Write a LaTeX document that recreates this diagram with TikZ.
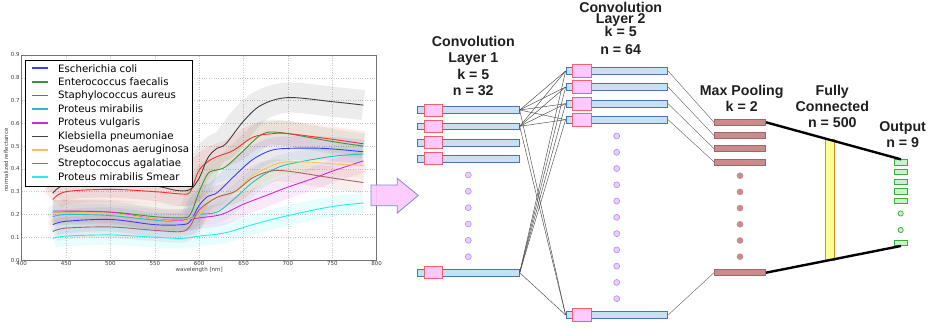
\documentclass[tikz,border=0pt]{standalone}
\usepackage{fontspec}
\setmainfont{Liberation Sans}
\newfontfamily\dejavu{DejaVu Sans}
\definecolor{barfill}{RGB}{200,225,242}
\definecolor{barline}{RGB}{75,115,185}
\definecolor{sqfill}{RGB}{255,200,255}
\definecolor{sqline}{RGB}{250,95,110}
\definecolor{dotfill}{RGB}{242,200,250}
\definecolor{dotline}{RGB}{165,150,228}
\definecolor{mpfill}{RGB}{200,140,140}
\definecolor{mpline}{RGB}{165,100,100}
\definecolor{fcfill}{RGB}{255,255,150}
\definecolor{fcline}{RGB}{215,140,40}
\definecolor{outfill}{RGB}{200,242,200}
\definecolor{outline}{RGB}{60,170,60}
\definecolor{arrfill}{RGB}{255,200,255}
\definecolor{arrline}{RGB}{120,140,205}
\definecolor{cEcoli}{RGB}{60,60,255}
\definecolor{cEnter}{RGB}{55,150,55}
\definecolor{cStaph}{RGB}{255,45,45}
\definecolor{cPmir}{RGB}{40,190,190}
\definecolor{cPvul}{RGB}{210,40,210}
\definecolor{cKleb}{RGB}{65,65,65}
\definecolor{cPseu}{RGB}{255,190,90}
\definecolor{cStrep}{RGB}{170,100,90}
\definecolor{cSmear}{RGB}{30,240,240}
\newcommand\cEcoli{(435,0.155) (450,0.17) (500,0.178) (550,0.155) (580,0.155) (590,0.17) (600,0.24) (610,0.28) (620,0.295) (640,0.37) (660,0.44) (680,0.48) (700,0.49) (740,0.49) (785,0.475)}
\newcommand\cEnter{(435,0.21) (500,0.21) (550,0.19) (580,0.185) (590,0.2) (600,0.3) (610,0.38) (620,0.395) (630,0.41) (650,0.48) (670,0.55) (690,0.56) (750,0.52) (785,0.5)}
\newcommand\cStaph{(435,0.265) (450,0.3) (500,0.31) (550,0.3) (580,0.29) (590,0.3) (600,0.395) (615,0.445) (638,0.48) (661,0.54) (684,0.555) (700,0.555) (750,0.53) (785,0.51)}
\newcommand\cPmir{(435,0.19) (450,0.2) (500,0.195) (550,0.175) (580,0.17) (600,0.2) (620,0.21) (640,0.27) (660,0.34) (680,0.39) (700,0.42) (750,0.455) (785,0.465)}
\newcommand\cPvul{(435,0.215) (500,0.21) (550,0.18) (580,0.175) (600,0.185) (625,0.2) (650,0.245) (680,0.29) (700,0.32) (730,0.36) (750,0.39) (785,0.435)}
\newcommand\cKleb{(435,0.293) (450,0.33) (500,0.34) (550,0.325) (575,0.305) (590,0.31) (600,0.36) (610,0.45) (620,0.49) (630,0.51) (650,0.61) (670,0.68) (700,0.713) (750,0.695) (785,0.68)}
\newcommand\cPseu{(435,0.21) (500,0.205) (550,0.18) (580,0.17) (600,0.2) (610,0.25) (620,0.275) (640,0.3) (660,0.37) (690,0.425) (720,0.43) (760,0.42) (785,0.415)}
\newcommand\cStrep{(435,0.125) (450,0.14) (500,0.145) (550,0.13) (580,0.125) (590,0.15) (600,0.22) (620,0.275) (640,0.3) (660,0.36) (680,0.39) (700,0.39) (750,0.36) (785,0.34)}
\newcommand\cSmear{(435,0.095) (450,0.105) (500,0.11) (550,0.1) (580,0.095) (600,0.105) (630,0.12) (660,0.155) (700,0.195) (750,0.235) (785,0.25)}
\newcommand\specband[3]{\edef\tmpspec{\noexpand\draw[line width=#2,draw=#1,draw opacity=0.1,line join=round] plot[smooth,tension=0.55] coordinates {#3};}\tmpspec}
\newcommand\specline[2]{\edef\tmpspec{\noexpand\draw[line width=0.9pt,draw=#1,line join=round] plot[smooth,tension=0.55] coordinates {#2};}\tmpspec}
\begin{document}
\begin{tikzpicture}[x=1pt,y=-1pt,
  ttl/.style={font=\bfseries\fontsize{14.2}{16}\selectfont,text=black!88,anchor=base,inner sep=0pt},
  lonebar/.style={rectangle,draw=barline,fill=barfill,line width=0.8pt,minimum width=101.6pt,minimum height=6.7pt,inner sep=0pt},
  ltwobar/.style={rectangle,draw=barline,fill=barfill,line width=0.8pt,minimum width=101.7pt,minimum height=6.7pt,inner sep=0pt},
  lonesq/.style={rectangle,draw=sqline,fill=sqfill,line width=0.8pt,minimum width=18.7pt,minimum height=12pt,inner sep=0pt},
  ltwosq/.style={rectangle,draw=sqline,fill=sqfill,line width=0.8pt,minimum width=19.4pt,minimum height=13pt,inner sep=0pt},
  ldot/.style={circle,draw=dotline,fill=dotfill,line width=0.6pt,minimum size=6pt,inner sep=0pt},
  mpbar/.style={rectangle,draw=mpline,fill=mpfill,line width=0.6pt,minimum width=51.4pt,minimum height=6pt,inner sep=0pt},
  mpdot/.style={circle,fill=mpfill,minimum size=6.6pt,inner sep=0pt},
  outbox/.style={rectangle,draw=outline,fill=outfill,line width=0.7pt,minimum width=12.4pt,minimum height=5.2pt,inner sep=0pt},
  outdot/.style={circle,draw=outline,fill=outfill,line width=0.7pt,minimum size=5.2pt,inner sep=0pt},
  conn/.style={draw=black!72,line width=0.45pt},
  pconn/.style={draw=black!55,line width=0.5pt},
  heavy/.style={draw=black,line width=2.4pt},
  gridline/.style={draw=black!22,line width=0.4pt,dotted},
  ticklab/.style={font=\dejavu\fontsize{5.5}{6}\selectfont,text=black!75,inner sep=0pt},
  legtext/.style={font=\dejavu\fontsize{10.2}{12}\selectfont,text=black,anchor=west,inner sep=0pt}]
\useasboundingbox (0,0) rectangle (930,329);
% ---------------- chart ----------------
\begin{scope}[shift={(-333.3,260)},x=0.8875pt,y=227.8pt]
  \foreach \g in {450,500,...,750} \draw[gridline] (\g,0) -- (\g,0.9);
  \foreach \g in {1,...,8} \draw[gridline] (400,{\g/10}) -- (800,{\g/10});
  \specband{cKleb}{30pt}{\cKleb}
  \specband{cStaph}{25pt}{\cStaph}
  \specband{cEnter}{25pt}{\cEnter}
  \specband{cEcoli}{24pt}{\cEcoli}
  \specband{cPmir}{22pt}{\cPmir}
  \specband{cPvul}{22pt}{\cPvul}
  \specband{cPseu}{24pt}{\cPseu}
  \specband{cStrep}{22pt}{\cStrep}
  \specband{cSmear}{20pt}{\cSmear}
  \specline{cEcoli}{\cEcoli}
  \specline{cEnter}{\cEnter}
  \specline{cStaph}{\cStaph}
  \specline{cPmir}{\cPmir}
  \specline{cPvul}{\cPvul}
  \specline{cKleb}{\cKleb}
  \specline{cPseu}{\cPseu}
  \specline{cStrep}{\cStrep}
  \specline{cSmear}{\cSmear}
  \draw[draw=black!55,line width=0.6pt] (400,0) rectangle (800,0.9);
  \foreach \g in {400,450,...,800} \node[ticklab,anchor=north] (xt\g) at (\g,-0.004) {\g};
  \foreach \g in {0,...,9} \node[ticklab,anchor=east] (yt\g) at (398,{\g/10}) {0.\g};
  \node[ticklab] (xlab) at (600,-0.044) {wavelength [nm]};
  \node[ticklab,rotate=90] (ylab) at (382.3,0.439) {normalized reflectance};
\end{scope}
% legend
\draw[fill=white,draw=black,line width=0.8pt] (25.7,60.7) rectangle (192.7,186);
\foreach \c/\t [count=\i from 0] in {cEcoli/Escherichia coli,cEnter/Enterococcus faecalis,cStaph/Staphylococcus aureus,cPmir/Proteus mirabilis,cPvul/Proteus vulgaris,cKleb/Klebsiella pneumoniae,cPseu/Pseudomonas aeruginosa,cStrep/Streptococcus agalatiae,cSmear/Proteus mirabilis Smear}{
  \draw[draw=\c,line width=1.6pt] (32,{68.3+13.6*\i}) -- (48,{68.3+13.6*\i});
  \node[legtext] (leg\i) at (58,{68.3+13.6*\i}) {\t};
}
% big arrow
\draw[fill=arrfill,draw=arrline,line width=0.8pt,fill opacity=0.92] (371,185) -- (397.3,185) -- (397.3,178.3) -- (418.3,195.5) -- (397.3,213) -- (397.3,205.7) -- (371,205.7) -- cycle;
% ---------------- titles ----------------
\node[ttl] (t1a) at (473.3,46.1) {Convolution};
\node[ttl] (t1b) at (473.3,62.8) {Layer 1};
\node[ttl] (t1c) at (473.3,79.4) {k = 5};
\node[ttl] (t1d) at (473.3,95.8) {n = 32};
\node[ttl] (t2a) at (620.7,12.8) {Convolution};
\node[ttl] (t2b) at (620.7,23.6) {Layer 2};
\node[ttl] (t2c) at (620.7,36.8) {k = 5};
\node[ttl] (t2d) at (620.7,54.4) {n = 64};
\node[ttl] (t3a) at (741.7,95.8) {Max Pooling};
\node[ttl] (t3b) at (741.7,111.8) {k = 2};
\node[ttl] (t4a) at (832.3,95.8) {Fully};
\node[ttl] (t4b) at (832.3,111.8) {Connected};
\node[ttl] (t4c) at (832.3,127.8) {n = 500};
\node[ttl] (t5a) at (902.7,131.8) {Output};
\node[ttl] (t5b) at (902.7,147.1) {n = 9};
% ---------------- layer 1 ----------------
\foreach \n/\y in {1/110,2/126.3,3/142.7,4/158.7,9/272.7} \node[lonebar] (a\n) at (468.5,\y) {};
% ---------------- layer 2 ----------------
\foreach \n/\y in {1/71,2/87,3/103.7,4/119.7,9/315} \node[ltwobar] (b\n) at (616.85,\y) {};
% ---------------- max pooling ----------------
\foreach \n/\y in {1/122.3,2/135.5,3/148.7,4/161.9,9/272.7} \node[mpbar] (m\n) at (740,\y) {};
% connections layer1 -> layer2
\foreach \s in {a1,a2,a9}
  \foreach \t in {b1,b2,b3,b4,b9}
    \draw[conn] (\s.east) -- (\t.west);
% connections layer2 -> pooling
\foreach \n in {1,2,3,4,9} \draw[pconn] (b\n.east) -- (m\n.west);
% squares
\foreach \n/\y in {1/110,2/126.3,3/142.7,4/158.7,9/272.7} \node[lonesq] (sa\n) at (433.3,\y) {};
\foreach \n/\y in {1/71,2/87,3/103.7,4/119.7,9/315} \node[ltwosq] (sb\n) at (582,\y) {};
% dots
\foreach \y [count=\i] in {175,191.3,207.7,224,240.3,256.7} \node[ldot] (da\i) at (468.3,\y) {};
\foreach \i in {0,...,10} \node[ldot] (db\i) at (616.7,{136+16.27*\i}) {};
\foreach \y [count=\i] in {175.7,191.9,208.1,224.3,240.5,256.7} \node[mpdot] (dm\i) at (740,\y) {};
% ---------------- fully connected ----------------
\node[rectangle,draw=fcline,fill=fcfill,line width=0.8pt,minimum width=8.6pt,minimum height=121.3pt,inner sep=0pt] (fc) at (830,199.65) {};
% ---------------- output ----------------
\foreach \n/\y in {1/162.3,2/172,3/181.7,4/191.4,5/201.1,9/243} \node[outbox] (o\n) at (901,\y) {};
\node[outdot] (oc1) at (900.7,213.5) {};
\node[outdot] (oc2) at (900.7,230) {};
\draw[heavy] (m1.east) -- (o1.north);
\draw[heavy] (m9.east) -- (o9.south);
\end{tikzpicture}
\end{document}
